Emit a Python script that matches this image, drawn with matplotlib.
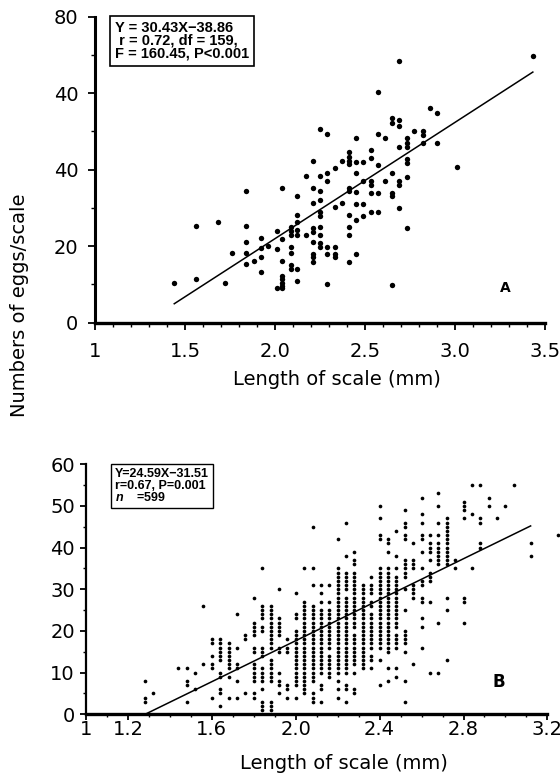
import matplotlib
matplotlib.use("Agg")
import matplotlib.pyplot as plt
from matplotlib.ticker import MultipleLocator, FixedLocator

# ---- panel A: eggs per scale vs scale length ----
a_len = [1.44, 1.56, 1.56, 1.68, 1.72, 1.76,
         1.84, 1.84, 1.84, 1.84, 1.84,
         1.88, 1.92, 1.92, 1.92, 1.92,
         1.96, 2.01, 2.01, 2.01,
         2.04, 2.04, 2.04, 2.04, 2.04, 2.04, 2.04, 2.04,
         2.09, 2.09, 2.09, 2.09, 2.09, 2.09, 2.09,
         2.12, 2.12, 2.12, 2.12, 2.12, 2.12, 2.12,
         2.17, 2.17,
         2.21, 2.21, 2.21, 2.21, 2.21, 2.21, 2.21, 2.21, 2.21,
         2.25, 2.25, 2.25, 2.25, 2.25, 2.25, 2.25, 2.25, 2.25, 2.25,
         2.29, 2.29, 2.29, 2.29, 2.29, 2.29,
         2.33, 2.33, 2.33, 2.33, 2.33,
         2.37, 2.37,
         2.41, 2.41, 2.41, 2.41, 2.41, 2.41, 2.41, 2.41, 2.41, 2.41,
         2.45, 2.45, 2.45, 2.45, 2.45, 2.45, 2.45,
         2.49, 2.49, 2.49, 2.49,
         2.53, 2.53, 2.53, 2.53, 2.53, 2.53,
         2.57, 2.57, 2.57, 2.57, 2.57,
         2.61, 2.61,
         2.65, 2.65, 2.65, 2.65, 2.65, 2.65,
         2.69, 2.69, 2.69, 2.69, 2.69, 2.69, 2.69,
         2.73, 2.73, 2.73, 2.73, 2.73, 2.73, 2.73,
         2.77,
         2.82, 2.82, 2.82,
         2.86,
         2.90, 2.90,
         3.01,
         3.43]
a_eggs = [10.3, 11.3, 25.3, 26.3, 10.3, 18.1,
          34.4, 25.2, 21.1, 18.1, 15.3,
          16.1, 22.1, 19.4, 17.1, 13.2,
          20.1, 24.1, 19.3, 9.2,
          35.3, 21.8, 16.1, 12.2, 11.3, 10.5, 9.6, 9.0,
          25.1, 24.1, 22.9, 19.9, 18.1, 15.1, 14.0,
          26.2, 24.2, 22.9, 28.2, 33.2, 14.0, 10.9,
          38.4, 22.9,
          42.3, 35.3, 31.2, 24.8, 23.8, 21.2, 18.0, 17.1, 16.0,
          50.6, 38.4, 34.3, 32.1, 29.0, 27.9, 24.9, 22.9, 20.9, 19.9,
          49.3, 39.2, 37.1, 19.9, 18.0, 10.0,
          40.4, 30.2, 19.9, 18.0, 17.1,
          31.2, 42.3,
          44.5, 43.4, 42.4, 41.4, 35.3, 34.3, 28.2, 25.1, 22.9, 16.0,
          48.4, 42.1, 39.2, 34.1, 31.0, 26.9, 18.0,
          42.1, 37.1, 31.0, 27.9,
          45.2, 43.0, 37.1, 36.0, 34.0, 29.0,
          60.3, 49.3, 41.2, 34.0, 29.0,
          48.2, 37.1,
          39.1, 34.0, 33.0, 9.9, 53.4, 52.3,
          68.3, 53.1, 51.3, 46.0, 37.1, 36.0, 29.9,
          48.2, 47.1, 46.0, 42.7, 41.8, 38.0, 24.7,
          50.1,
          50.1, 49.1, 46.9,
          56.2,
          54.8, 46.9,
          40.8,
          69.8]
a_slope, a_icept = 30.43, -38.86
a_fit_range = [1.44, 3.43]
a_xticks = [1, 1.5, 2.0, 2.5, 3.0, 3.5]
a_xticklabels = ["1", "1.5", "2.0", "2.5", "3.0", "3.5"]
a_yticks = [0, 20, 40, 60, 80]
a_yticklabels = ["0", "20", "40", "40", "80"]   # printed this way in the original
a_note = "Y = 30.43X\u221238.86\n r = 0.72, df = 159,\nF = 160.45, P<0.001"

# ---- panel B: columns of scale length with egg counts ----
b_len = [1.28, 1.32, 1.44, 1.48, 1.52, 1.56, 1.60, 1.64, 1.68, 1.72, 1.76,
         1.80, 1.84, 1.88, 1.92, 1.96, 2.00, 2.04, 2.08, 2.12, 2.16, 2.20,
         2.24, 2.28, 2.32, 2.36, 2.40, 2.44, 2.48, 2.52, 2.56, 2.60, 2.64,
         2.68, 2.72, 2.76, 2.80, 2.84, 2.88, 2.92, 2.96, 3.00, 3.04, 3.12, 3.25]
b_eggs = [
    [8, 4, 3],
    [5],
    [11],
    [11, 8, 7, 3],
    [10, 6],
    [26, 12],
    [18, 17, 14, 12, 11, 4],
    [18, 17, 16, 15, 14, 13, 10, 9, 6, 5, 2],
    [17, 16, 15, 14, 13, 12, 11, 9, 4],
    [24, 16, 12, 11, 8, 4],
    [19, 18, 5],
    [28, 22, 21, 20, 19, 16, 15, 12, 11, 10, 9, 8, 5, 4],
    [35, 26, 25, 24, 23, 21, 20, 16, 15, 14, 11, 10, 9, 8, 6, 3, 2, 1],
    [26, 25, 24, 23, 22, 21, 20, 19, 18, 17, 16, 13, 12, 11, 10, 9, 8, 3, 2, 1],
    [30, 23, 22, 21, 20, 19, 16, 15, 10, 8, 7, 5],
    [18, 16, 15, 7, 6, 4],
    [29, 24, 23, 20, 19, 18, 17, 16, 15, 14, 13, 12, 11, 10, 9, 8, 7, 4],
    [35, 27, 26, 25, 24, 23, 22, 21, 20, 19, 18, 17, 16, 15, 14, 13, 12, 11, 10, 9, 8, 7, 6, 5],
    [45, 35, 31, 26, 25, 24, 23, 22, 21, 20, 19, 18, 17, 16, 15, 14, 13, 12, 11, 10, 9, 8, 5, 4, 3],
    [31, 29, 27, 25, 24, 23, 22, 21, 20, 19, 18, 17, 16, 15, 14, 13, 12, 11, 10, 7, 6, 3],
    [31, 27, 25, 24, 23, 22, 21, 20, 19, 18, 17, 16, 14, 13, 12, 11, 10, 9],
    [42, 35, 34, 33, 32, 31, 30, 29, 28, 27, 26, 25, 24, 23, 22, 21, 20, 19, 18, 17, 16, 15, 14, 13, 12, 11, 10, 8, 6, 4],
    [46, 38, 34, 33, 32, 31, 30, 28, 27, 26, 25, 24, 23, 22, 21, 20, 19, 18, 17, 16, 15, 14, 13, 12, 11, 10, 7, 6, 3],
    [39, 37, 36, 34, 33, 32, 31, 30, 29, 28, 27, 26, 25, 24, 23, 22, 21, 19, 18, 17, 16, 15, 14, 13, 12, 10, 6, 5],
    [31, 30, 29, 28, 27, 26, 25, 24, 23, 22, 21, 20, 19, 18, 17, 16, 15, 14, 13, 12, 11],
    [33, 31, 30, 29, 27, 26, 24, 23, 22, 21, 20, 19, 18, 17, 16, 14, 13, 11],
    [50, 47, 43, 42, 35, 34, 33, 32, 31, 30, 29, 28, 27, 26, 25, 24, 23, 22, 21, 20, 19, 18, 17, 16, 13, 7],
    [42, 41, 39, 35, 34, 33, 32, 31, 30, 29, 28, 27, 26, 25, 24, 23, 22, 21, 20, 19, 18, 17, 16, 15, 11, 8],
    [44, 38, 35, 33, 32, 31, 30, 29, 28, 27, 26, 25, 24, 23, 22, 21, 19, 18, 17, 16, 11, 9],
    [49, 46, 45, 43, 42, 37, 36, 35, 34, 33, 30, 25, 20, 19, 18, 17, 15, 8, 3],
    [41, 37, 36, 35, 31, 30, 29, 28, 12],
    [52, 48, 46, 43, 42, 39, 35, 32, 31, 28, 27, 23, 21, 16],
    [43, 41, 40, 39, 37, 34, 33, 32, 27, 10],
    [53, 50, 46, 43, 41, 40, 39, 38, 37, 36, 22, 10],
    [47, 46, 45, 44, 43, 42, 41, 40, 39, 38, 37, 36, 28, 25, 13],
    [37, 35],
    [51, 50, 49, 47, 28, 27, 22],
    [55, 48, 35],
    [55, 47, 46, 41, 40],
    [52, 50],
    [47],
    [50],
    [55],
    [41, 38],
    [43],
]
b_slope, b_icept = 24.59, -31.51
b_fit_range = [1.28, 3.12]
b_xticks = [1, 1.2, 1.6, 2.0, 2.4, 2.8, 3.2]
b_xticklabels = ["1", "1.2", "1.6", "2.0", "2.4", "2.8", "3.2"]
b_yticks = [0, 10, 20, 30, 40, 50, 60]
b_note = "Y=24.59X\u221231.51\nr=0.67, P=0.001\n$n$    =599"

plt.rcParams['font.family'] = ['DejaVu Sans']
plt.rcParams['mathtext.fontset'] = 'custom'
plt.rcParams['mathtext.it'] = 'Liberation Sans:italic:bold'

fig = plt.figure(figsize=(5.6, 7.75), dpi=100)
axA = fig.add_axes([0.1696, 0.5836, 0.8044, 0.3949])
axB = fig.add_axes([0.1536, 0.0783, 0.8239, 0.3226])

# panel A
axA.scatter(a_len, a_eggs, s=15, c='black', linewidths=0, clip_on=False, zorder=3)
axA.plot(a_fit_range, [a_slope * x + a_icept for x in a_fit_range], color='black', lw=1.1)
axA.set_xlim(1, 3.5)
axA.set_ylim(0, 80)
axA.xaxis.set_major_locator(FixedLocator(a_xticks))
axA.set_xticklabels(a_xticklabels)
axA.xaxis.set_minor_locator(MultipleLocator(0.1))
axA.yaxis.set_major_locator(FixedLocator(a_yticks))
axA.set_yticklabels(a_yticklabels)
axA.yaxis.set_minor_locator(MultipleLocator(10))
axA.tick_params(which='major', direction='out', length=5, width=1.3, labelsize=14)
axA.tick_params(axis='x', which='major', pad=9)
axA.tick_params(axis='y', which='major', pad=7)
axA.tick_params(which='minor', direction='out', length=3, width=1.0)
axA.set_xlabel("Length of scale (mm)", fontsize=14)
axA.xaxis.set_label_coords(0.537, -0.155)
axA.text(0.045, 0.985, a_note, transform=axA.transAxes, ha='left', va='top',
         family='Liberation Sans', fontweight='bold', fontsize=10.5, linespacing=0.88,
         bbox=dict(boxstyle='square,pad=0.35', fc='white', ec='black', lw=1.2))
axA.text(0.91, 0.113, "A", transform=axA.transAxes, ha='center', va='center',
         fontsize=10, fontweight='bold')

# panel B
bx = [x for x, ys in zip(b_len, b_eggs) for _ in ys]
by = [y for ys in b_eggs for y in ys]
axB.scatter(bx, by, s=7, c='black', linewidths=0, clip_on=False, zorder=3)
axB.plot(b_fit_range, [b_slope * x + b_icept for x in b_fit_range], color='black', lw=1.1)
axB.set_xlim(1, 3.2)
axB.set_ylim(0, 60)
axB.xaxis.set_major_locator(FixedLocator(b_xticks))
axB.set_xticklabels(b_xticklabels)
axB.xaxis.set_minor_locator(MultipleLocator(0.1))
axB.yaxis.set_major_locator(FixedLocator(b_yticks))
axB.yaxis.set_minor_locator(MultipleLocator(5))
axB.tick_params(which='major', direction='out', length=4, width=1.3, labelsize=14)
axB.tick_params(axis='x', which='major', pad=0)
axB.tick_params(axis='y', which='major', pad=4)
axB.tick_params(which='minor', direction='out', length=2.5, width=1.0)
axB.set_xlabel("Length of scale (mm)", fontsize=14)
axB.xaxis.set_label_coords(0.56, -0.16)
axB.text(0.063, 0.985, b_note, transform=axB.transAxes, ha='left', va='top',
         family='Liberation Sans', fontweight='bold', fontsize=9, linespacing=0.95,
         bbox=dict(boxstyle='square,pad=0.35', fc='white', ec='black', lw=1.0))
axB.text(0.895, 0.129, "B", transform=axB.transAxes, ha='center', va='center',
         fontsize=12, fontweight='bold')

for ax, lw_left, lw_bottom in [(axA, 2.2, 2.4), (axB, 1.6, 2.4)]:
    ax.spines['top'].set_visible(False)
    ax.spines['right'].set_visible(False)
    ax.spines['left'].set_linewidth(lw_left)
    ax.spines['bottom'].set_linewidth(lw_bottom)

fig.text(20 / 560, 1 - 305 / 775, "Numbers of eggs/scale", rotation=90,
         ha='center', va='center', fontsize=14)

fig.savefig("out.png", dpi=100)
